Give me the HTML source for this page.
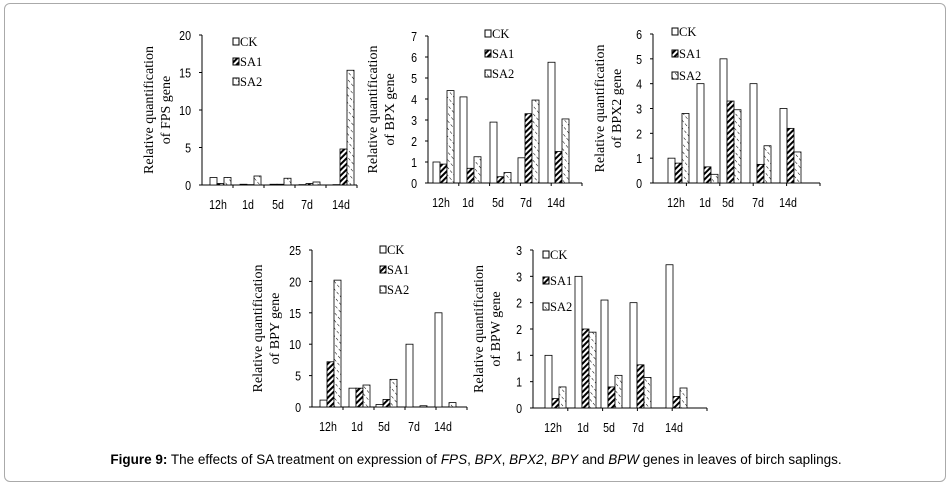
<!DOCTYPE html>
<html><head><meta charset="utf-8"><style>
body{margin:0;background:#fff;width:952px;height:485px;overflow:hidden}
#frame{position:absolute;left:4px;top:3px;width:940px;height:477px;border:1px solid #aaa;border-radius:6px}
#cap{position:absolute;left:0;width:952px;top:452px;text-align:center;font:13.5px "Liberation Sans",sans-serif;color:#000}
svg{position:absolute;left:0;top:0}
</style></head><body>
<div id="frame"></div>
<svg id="svg" width="952" height="485">
<defs>
<pattern id="p1" width="4" height="4" patternUnits="userSpaceOnUse" patternTransform="rotate(45)"><rect width="4" height="4" fill="#fff"/><rect width="2" height="4" fill="#000"/></pattern>
<pattern id="p2" width="5" height="5" patternUnits="userSpaceOnUse" patternTransform="rotate(-40)"><rect width="5" height="5" fill="#fff"/><line x1="0" y1="0" x2="0" y2="3" stroke="#000" stroke-width="1"/></pattern>
</defs>
</svg>
<div id="cap"><b>Figure 9:</b> The effects of SA treatment on expression of <i>FPS</i>, <i>BPX</i>, <i>BPX2</i>, <i>BPY</i> and <i>BPW</i> genes in leaves of birch saplings.</div>
<script>
const categories=["12h","1d","5d","7d","14d"];
const seriesNames=["CK","SA1","SA2"];
const fpsCK=[1.0,0.1,0.1,0.05,0.05], fpsSA1=[0.2,0.05,0.1,0.2,4.8], fpsSA2=[1.0,1.2,0.9,0.4,15.3];
const bpxCK=[1.0,4.1,2.9,1.2,5.75], bpxSA1=[0.9,0.7,0.3,3.3,1.5], bpxSA2=[4.4,1.25,0.5,3.95,3.05];
const bpx2CK=[1.0,4.0,5.0,4.0,3.0], bpx2SA1=[0.8,0.65,3.3,0.75,2.2], bpx2SA2=[2.8,0.35,2.95,1.5,1.25];
const bpyCK=[1.1,3.0,0.4,10,15], bpySA1=[7.2,3.0,1.2,0,0], bpySA2=[20.2,3.5,4.4,0.2,0.7];
const bpwCK=[1.0,2.5,2.05,2.0,2.72], bpwSA1=[0.18,1.5,0.4,0.82,0.22], bpwSA2=[0.4,1.44,0.62,0.58,0.38];
const fpsTicks=["0","5","10","15","20"], bpxTicks=["0","1","2","3","4","5","6","7"],
 bpx2Ticks=["0","1","2","3","4","5","6"], bpyTicks=["0","5","10","15","20","25"],
 bpwTicks=["0","1","1","2","2","3","3"];
const NS="http://www.w3.org/2000/svg", svg=document.getElementById('svg');
function mk(t,a,p){const e=document.createElementNS(NS,t);for(const k in a)e.setAttribute(k,a[k]);(p||svg).appendChild(e);return e;}
function chart(o){
 const g=mk('g',{});
 
 
 const y=v=>o.y0-(v/o.max)*(o.y0-o.yTop);
 mk('line',{x1:o.ax,y1:o.yTop,x2:o.ax,y2:o.y0,stroke:'#000'},g);
 mk('line',{x1:o.ax,y1:o.y0,x2:o.axEnd,y2:o.y0,stroke:'#000'},g);
 const n=o.ticks.length-1;
 o.ticks.forEach((t,i)=>{const v=o.max*i/n;
  mk('line',{x1:o.ax-3,y1:y(v),x2:o.ax,y2:y(v),stroke:'#000'},g);
  const tx=mk('text',{transform:`translate(${o.ax-11},${y(v)+5}) scale(0.82,1)`,'text-anchor':'end','font-family':'Liberation Sans,sans-serif','font-size':13},g);tx.textContent=t;
  
  });
 const fills=['#fff','url(#p1)','url(#p2)'];
 const cw=(o.axEnd-o.ax)/5;
 categories.forEach((c,i)=>{const cx=o.cx[i];
  mk('line',{x1:o.ax+cw*(i+1),y1:o.y0,x2:o.ax+cw*(i+1),y2:o.y0+3,stroke:'#000'},g);
  o.data.forEach((d,s)=>{const b=mk('rect',{x:cx-5+7*s,y:y(d[i]),width:7,height:o.y0-y(d[i]),fill:fills[s],stroke:'#000','stroke-width':0.8},g);
   
   });
  const tl=mk('text',{transform:`translate(${cx+3},${o.y0+24}) scale(0.85,1)`,'text-anchor':'middle','font-family':'Liberation Sans,sans-serif','font-size':12.5},g);tl.textContent=c;
  
  });
 seriesNames.forEach((s,i)=>{const ly=o.leg[1]+i*o.legGap;
  mk('rect',{x:o.leg[0],y:ly-8,width:6,height:7,fill:fills[i],stroke:'#000'},g);
  const t=mk('text',{x:o.leg[0]+7,y:ly,'font-family':'Liberation Serif,serif','font-size':12.5},g);t.textContent=s;
  
  });
 const tt=mk('text',{transform:`translate(${o.tx},${(o.yTop+o.y0)/2}) rotate(-90)`,'text-anchor':'middle','font-family':'Liberation Serif,serif','font-size':14},g);
 const a=mk('tspan',{x:0,dy:-9},tt);a.textContent='Relative quantification';
 const b=mk('tspan',{x:0,dy:17},tt);b.textContent='of '+o.gene+' gene';
 
 
}
chart({name:'fps',gene:'FPS',ax:202,axEnd:357,yTop:35,y0:185,max:20,ticks:fpsTicks,cx:[215,245,275,304,338],data:[fpsCK,fpsSA1,fpsSA2],leg:[233,46],legGap:20,tx:162});
chart({name:'bpx',gene:'BPX',ax:428,axEnd:582,yTop:36,y0:183,max:7,ticks:bpxTicks,cx:[438,465,495,523,553],data:[bpxCK,bpxSA1,bpxSA2],leg:[485,38],legGap:20,tx:386});
chart({name:'bpx2',gene:'BPX2',ax:653,axEnd:820,yTop:34,y0:183,max:6,ticks:bpx2Ticks,cx:[673,702,725,755,785],data:[bpx2CK,bpx2SA1,bpx2SA2],leg:[672,36],legGap:22,tx:613});
chart({name:'bpy',gene:'BPY',ax:312,axEnd:467,yTop:250,y0:407,max:25,ticks:bpyTicks,cx:[325,354,381,411,440],data:[bpyCK,bpySA1,bpySA2],leg:[380,254],legGap:20,tx:271});
chart({name:'bpw',gene:'BPW',ax:533,axEnd:707,yTop:250,y0:408,max:3,ticks:bpwTicks,cx:[550,580,606,635,671],data:[bpwCK,bpwSA1,bpwSA2],leg:[543,259],legGap:26,tx:492});
</script>
</body></html>
